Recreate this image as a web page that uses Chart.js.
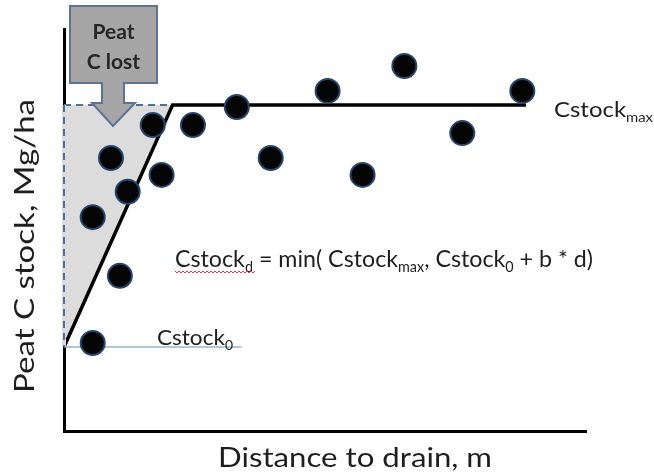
<!DOCTYPE html>
<html>
<head>
<meta charset="utf-8">
<script src="https://cdn.jsdelivr.net/npm/chart.js@4"></script>
<style>
	html, body { margin: 0; padding: 0; background: #fff; }
	#wrap { width: 654px; height: 475px; }
</style>
</head>
<body>
<div id="wrap"><canvas id="chartPeat" width="654" height="475"></canvas></div>
<script>
'use strict'

// observed plots: distance to drain vs peat C stock (schematic units)
const distance = [5.5, 10.7, 5.5, 12.2, 9.0, 18.7, 17.0, 24.7, 33.1, 39.6, 50.5, 57.2, 65.2, 76.3, 87.8];
const stock = [21.9, 38.6, 53.2, 59.5, 67.9, 63.7, 76.1, 76.1, 80.6, 67.9, 84.6, 63.7, 90.8, 74.1, 84.6];

// model: Cstock_d = min(Cstock_max, Cstock_0 + b * d)
const cstock0 = 20.9;
const cstockMax = 81.1;
const breakDistance = 20.8;
const endDistance = 88.5;
const baselineEnd = 34;

const xTitle = 'Distance to drain, m';
const yTitle = 'Peat C stock, Mg/ha';

const font = 'Lato, "Open Sans", sans-serif';
const textColor = '#1e1e1e';

const points = distance.map((d, i) => ({ x: d, y: stock[i] }));

// draws text runs (with subscripts) squeezed/stretched to a given width
function drawRuns(ctx, runs, x, y, size, width) {
	ctx.save();
	ctx.textBaseline = 'alphabetic';
	ctx.textAlign = 'left';
	let total = 0;
	runs.forEach(r => {
		ctx.font = (r.sub ? size * 0.62 : size) + 'px ' + font;
		total += ctx.measureText(r.t).width;
	});
	ctx.translate(x, y);
	ctx.scale(width ? width / total : 1, 1);
	let cx = 0;
	runs.forEach(r => {
		ctx.font = (r.sub ? size * 0.62 : size) + 'px ' + font;
		ctx.fillText(r.t, cx, r.sub ? size * 0.22 : 0);
		cx += ctx.measureText(r.t).width;
	});
	ctx.restore();
}

function drawTitle(ctx, text, cx, cy, size, length, rotation) {
	ctx.save();
	ctx.translate(cx, cy);
	ctx.rotate(rotation);
	ctx.font = size + 'px ' + font;
	ctx.scale(length / ctx.measureText(text).width, 1);
	ctx.textAlign = 'center';
	ctx.textBaseline = 'middle';
	ctx.fillText(text, 0, 0);
	ctx.restore();
}

const annotations = {
	id: 'annotations',
	beforeDatasetsDraw(chart) {
		const { ctx, scales: { x, y } } = chart;
		ctx.save();
		// thin baseline at Cstock0
		ctx.strokeStyle = '#9bb3d1';
		ctx.lineWidth = 1.5;
		ctx.beginPath();
		ctx.moveTo(x.getPixelForValue(0), y.getPixelForValue(cstock0));
		ctx.lineTo(x.getPixelForValue(baselineEnd), y.getPixelForValue(cstock0));
		ctx.stroke();
		ctx.restore();
	},
	afterDatasetsDraw(chart) {
		const { ctx, scales: { x, y } } = chart;
		ctx.save();

		// dashed left edge of the lost area, over the axis
		const x0 = x.getPixelForValue(0);
		const yTop = y.getPixelForValue(cstockMax);
		const yBot = y.getPixelForValue(cstock0);
		ctx.fillStyle = '#dcdcdc';
		ctx.fillRect(x0 - 2, yTop, 4, yBot - yTop);
		ctx.strokeStyle = '#4f6f96';
		ctx.lineWidth = 2;
		ctx.setLineDash([7, 5]);
		ctx.beginPath();
		ctx.moveTo(x0, yTop);
		ctx.lineTo(x0, yBot);
		ctx.stroke();
		ctx.setLineDash([]);

		// "Peat C lost" callout
		const bl = 70, br = 157, bt = 6, bb = 83;
		const sl = 102, sr = 124, ht = 103, hl = 92, hr = 135, tipX = 113, tipY = 126;
		ctx.beginPath();
		ctx.moveTo(bl, bt);
		ctx.lineTo(br, bt);
		ctx.lineTo(br, bb);
		ctx.lineTo(sr, bb);
		ctx.lineTo(sr, ht);
		ctx.lineTo(hr, ht);
		ctx.lineTo(tipX, tipY);
		ctx.lineTo(hl, ht);
		ctx.lineTo(sl, ht);
		ctx.lineTo(sl, bb);
		ctx.lineTo(bl, bb);
		ctx.closePath();
		ctx.fillStyle = '#a6a6a6';
		ctx.fill();
		ctx.strokeStyle = '#5d7394';
		ctx.lineWidth = 2;
		ctx.stroke();
		ctx.fillStyle = '#262626';
		ctx.textAlign = 'center';
		ctx.textBaseline = 'middle';
		ctx.font = 'bold 21px ' + font;
		ctx.fillText('Peat', (bl + br) / 2, 32);
		ctx.fillText('C lost', (bl + br) / 2, 62);

		// labels
		ctx.fillStyle = textColor;
		drawRuns(ctx, [{ t: 'Cstock' }, { t: 'max', sub: true }], 554, 117, 22, 99);
		drawRuns(ctx, [{ t: 'Cstock' }, { t: '0', sub: true }], 157, 345, 22, 76);
		const fx = 175, fy = 267;
		drawRuns(ctx, [
			{ t: 'Cstock' }, { t: 'd', sub: true }, { t: ' = min( Cstock' }, { t: 'max', sub: true },
			{ t: ', Cstock' }, { t: '0', sub: true }, { t: ' + b * d)' },
		], fx, fy, 24, 418);

		// spell-check squiggle under Cstock_d
		ctx.strokeStyle = '#e0403a';
		ctx.lineWidth = 1;
		ctx.beginPath();
		for (let i = 0; i <= 80; i += 2) {
			const yy = fy + 4 + ((i / 2) % 2 === 0 ? 0 : 2);
			if (i === 0) ctx.moveTo(fx + i, yy); else ctx.lineTo(fx + i, yy);
		}
		ctx.stroke();

		// axis titles
		ctx.fillStyle = textColor;
		drawTitle(ctx, xTitle, 355, 458, 27, 274, 0);
		drawTitle(ctx, yTitle, 25, 246, 27, 294, -Math.PI / 2);
		ctx.restore();
	},
};

let chartPeat = new Chart(document.getElementById('chartPeat'), {
	type: 'scatter',
	data: {
		datasets: [
			{
				label: 'Plots',
				data: points,
				order: 0,
				pointRadius: 12,
				pointBackgroundColor: '#050505',
				pointBorderColor: '#27466d',
				pointBorderWidth: 2,
			},
			{
				label: 'Peat C lost',
				type: 'line',
				data: [{ x: 0, y: cstockMax }, { x: breakDistance, y: cstockMax }],
				order: 2,
				borderColor: '#4f6f96',
				borderWidth: 2,
				borderDash: [7, 5],
				pointRadius: 0,
				backgroundColor: '#dcdcdc',
				fill: { target: 2 },
			},
			{
				label: 'Model',
				type: 'line',
				data: [{ x: 0, y: cstock0 }, { x: breakDistance, y: cstockMax }, { x: endDistance, y: cstockMax }],
				order: 1,
				borderColor: '#000',
				borderWidth: 3.5,
				pointRadius: 0,
				fill: false,
			},
		],
	},
	options: {
		responsive: false,
		animation: false,
		events: [],
		layout: {
			padding: { left: 0, top: 29, right: 68, bottom: 0 },
		},
		plugins: {
			legend: { display: false },
			tooltip: { enabled: false },
		},
		scales: {
			x: {
				type: 'linear',
				min: 0,
				max: 100,
				ticks: { display: false },
				grid: { display: false },
				border: { color: '#000', width: 3 },
				afterFit(scale) { scale.height = 44; },
			},
			y: {
				type: 'linear',
				min: 0,
				max: 100,
				ticks: { display: false },
				grid: { display: false },
				border: { color: '#000', width: 3 },
				afterFit(scale) { scale.width = 64; },
			},
		},
	},
	plugins: [annotations],
});
</script>
</body>
</html>
